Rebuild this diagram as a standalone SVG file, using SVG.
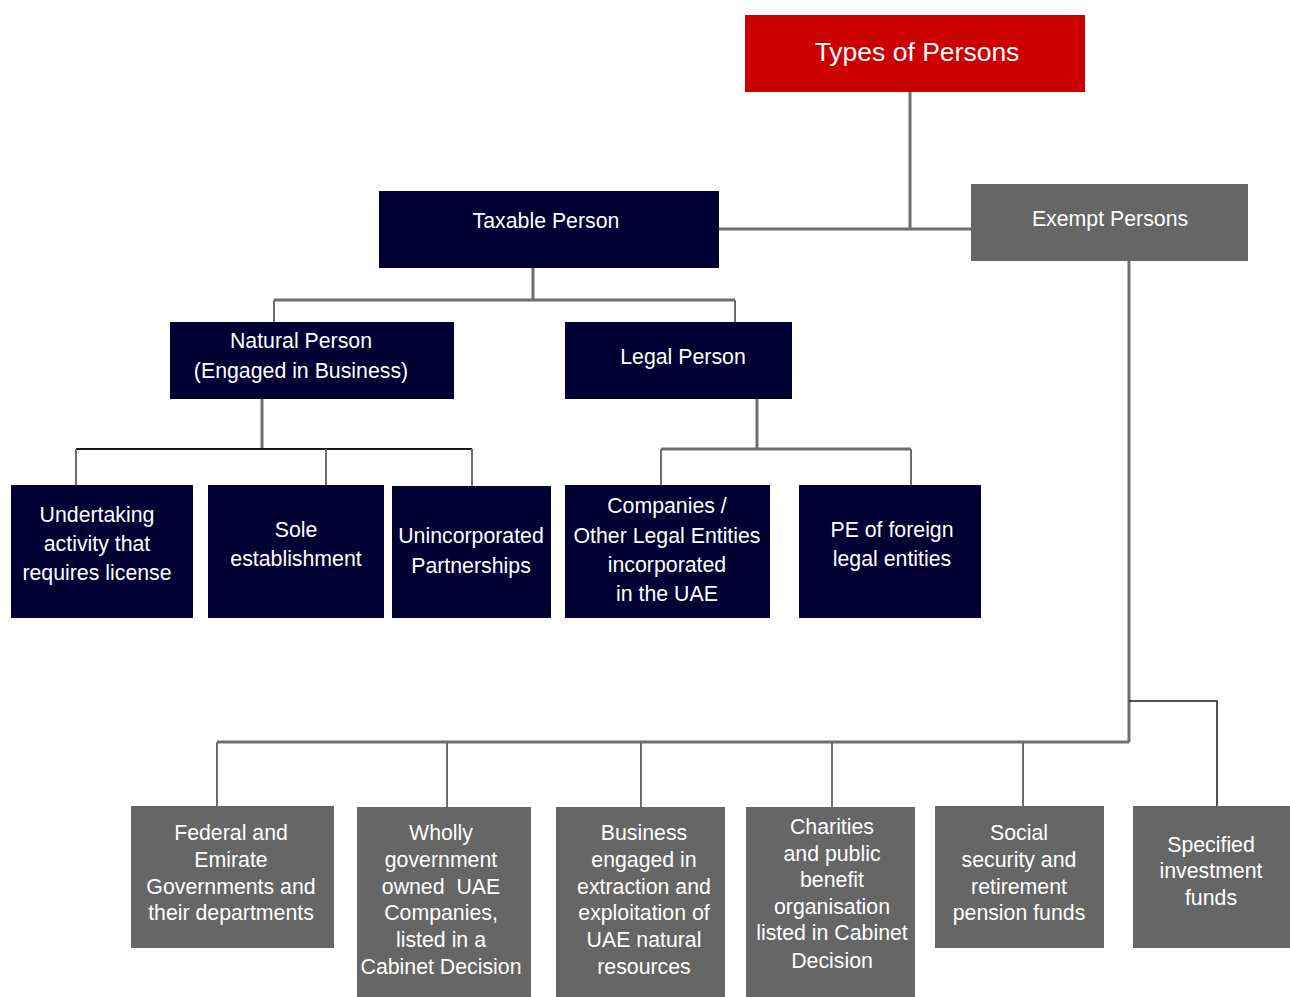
<svg xmlns="http://www.w3.org/2000/svg" width="1290" height="997" viewBox="0 0 1290 997">
<style>
text{font-family:"Liberation Sans",Arial,sans-serif;fill:#fff;text-anchor:middle;font-size:21.3px}
.red{fill:#cc0000}
.navy{fill:#000033}
.grey{fill:#666666}
.c{fill:none;stroke:#6e6e6e;stroke-width:3}
.t{fill:none;stroke:#6e6e6e;stroke-width:2}
.k{fill:none;stroke:#1a1a1a;stroke-width:1.5}
</style>
<rect width="1290" height="997" fill="#fff"/>
<g id="connectors">
<path class="c" d="M910 92V229"/>
<path class="c" d="M719 229H971"/>
<path class="c" d="M533 268V300M274 300H735"/>
<path class="t" d="M274 300V322M735 300V322"/>
<path class="c" d="M262 399V449"/>
<path class="k" d="M76 449H472" style="stroke-width:2"/>
<path class="t" d="M76 449V485M326 449V485M472 449V486"/>
<path class="c" d="M757 399V449M661 449H911"/>
<path class="t" d="M661 449V485M911 449V485"/>
<path class="c" d="M1129 261V742M217 742H1129"/>
<path class="t" d="M217 742V806M447 742V807M641 742V807M832 742V807M1023 742V806"/>
<path class="k" d="M1129 701H1217V808"/>
</g>
<g id="types"><rect class="red" x="745" y="15" width="340" height="77"/><text x="917" y="61" style="font-size:26.5px">Types of Persons</text></g>
<g id="taxable"><rect class="navy" x="379" y="191" width="340" height="77"/><text x="546" y="228">Taxable Person</text></g>
<g id="exempt"><rect class="grey" x="971" y="184" width="277" height="77"/><text x="1110" y="226">Exempt Persons</text></g>
<g id="natural"><rect class="navy" x="170" y="322" width="284" height="77"/><text x="301" y="348">Natural Person</text><text x="301" y="378">(Engaged in Business)</text></g>
<g id="legal"><rect class="navy" x="565" y="322" width="227" height="77"/><text x="683" y="364">Legal Person</text></g>
<g id="undertaking"><rect class="navy" x="11" y="485" width="182" height="133"/><text x="97" y="522">Undertaking</text><text x="97" y="551">activity that</text><text x="97" y="580">requires license</text></g>
<g id="sole"><rect class="navy" x="208" y="485" width="176" height="133"/><text x="296" y="537">Sole</text><text x="296" y="566">establishment</text></g>
<g id="unincorporated"><rect class="navy" x="392" y="486" width="159" height="132"/><text x="471" y="543">Unincorporated</text><text x="471" y="573">Partnerships</text></g>
<g id="companies"><rect class="navy" x="565" y="485" width="205" height="133"/><text x="667" y="513">Companies /</text><text x="667" y="543">Other Legal Entities</text><text x="667" y="572">incorporated</text><text x="667" y="601">in the UAE</text></g>
<g id="pe"><rect class="navy" x="799" y="485" width="182" height="133"/><text x="892" y="537">PE of foreign</text><text x="892" y="566">legal entities</text></g>
<g id="federal"><rect class="grey" x="131" y="806" width="203" height="142"/><text x="231" y="840">Federal and</text><text x="231" y="867">Emirate</text><text x="231" y="894">Governments and</text><text x="231" y="920">their departments</text></g>
<g id="wholly"><rect class="grey" x="357" y="807" width="174" height="190"/><text x="441" y="840">Wholly</text><text x="441" y="867">government</text><text x="441" y="894" xml:space="preserve">owned  UAE</text><text x="441" y="920">Companies,</text><text x="441" y="947">listed in a</text><text x="441" y="974">Cabinet Decision</text></g>
<g id="business"><rect class="grey" x="556" y="807" width="169" height="190"/><text x="644" y="840">Business</text><text x="644" y="867">engaged in</text><text x="644" y="894">extraction and</text><text x="644" y="920">exploitation of</text><text x="644" y="947">UAE natural</text><text x="644" y="974">resources</text></g>
<g id="charities"><rect class="grey" x="746" y="807" width="169" height="190"/><text x="832" y="834">Charities</text><text x="832" y="861">and public</text><text x="832" y="887">benefit</text><text x="832" y="914">organisation</text><text x="832" y="940">listed in Cabinet</text><text x="832" y="968">Decision</text></g>
<g id="social"><rect class="grey" x="935" y="806" width="169" height="142"/><text x="1019" y="840">Social</text><text x="1019" y="867">security and</text><text x="1019" y="894">retirement</text><text x="1019" y="920">pension funds</text></g>
<g id="specified"><rect class="grey" x="1133" y="806" width="157" height="142"/><text x="1211" y="852">Specified</text><text x="1211" y="878">investment</text><text x="1211" y="905">funds</text></g>
</svg>
